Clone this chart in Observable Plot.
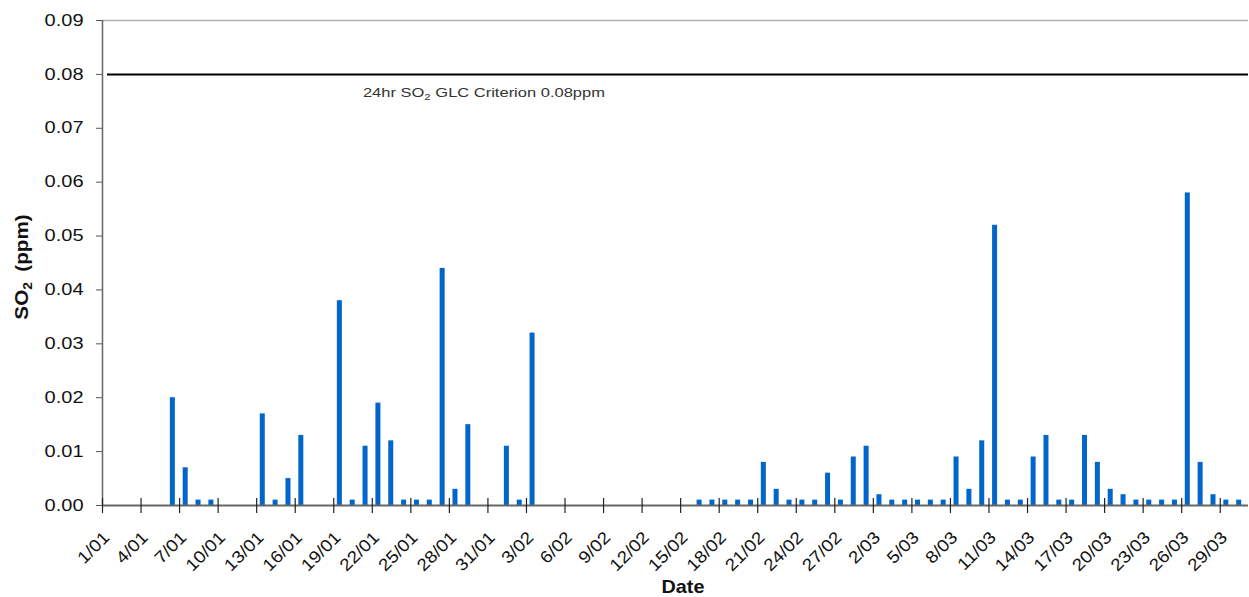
<!DOCTYPE html>
<html><head><meta charset="utf-8">
<script src="https://cdn.jsdelivr.net/npm/d3@7"></script>
<script src="https://cdn.jsdelivr.net/npm/@observablehq/plot@0.6"></script>
<style>
html,body{margin:0;padding:0;background:#fff;}
#chart{width:1249px;height:597px;overflow:hidden;}
svg{display:block;}
</style></head><body><div id="chart"></div>
<script>
// ---- data ----
const barDates = ["5/01","6/01","7/01","8/01","9/01","13/01","14/01","15/01","16/01","19/01","20/01","21/01","22/01","23/01","24/01","25/01","26/01","27/01","28/01","29/01","1/02","2/02","3/02",
  "16/02","17/02","18/02","19/02","20/02","21/02","22/02","23/02","24/02","25/02","26/02","27/02","28/02",
  "1/03","2/03","3/03","4/03","5/03","6/03","7/03","8/03","9/03","10/03","11/03","12/03","13/03","14/03","15/03","16/03","17/03","18/03","19/03","20/03","21/03","22/03","23/03","24/03","25/03","26/03","27/03","28/03","29/03","30/03"];
const so2Values = [0.000,0.020,0.007,0.001,0.001,0.017,0.001,0.005,0.013,0.038,0.001,0.011,0.019,0.012,0.001,0.001,0.001,0.044,0.003,0.015,0.011,0.001,0.032,
  0.001,0.001,0.001,0.001,0.001,0.008,0.003,0.001,0.001,0.001,0.006,0.001,0.009,
  0.011,0.002,0.001,0.001,0.001,0.001,0.001,0.009,0.003,0.012,0.052,0.001,0.001,0.009,0.013,0.001,0.001,0.013,0.008,0.003,0.002,0.001,0.001,0.001,0.001,0.058,0.008,0.002,0.001,0.001];
const tickLabels = ["1/01","4/01","7/01","10/01","13/01","16/01","19/01","22/01","25/01","28/01","31/01","3/02","6/02","9/02","12/02","15/02","18/02","21/02","24/02","27/02","2/03","5/03","8/03","11/03","14/03","17/03","20/03","23/03","26/03","29/03"];
const yTicks = [0,0.01,0.02,0.03,0.04,0.05,0.06,0.07,0.08,0.09];
const criterion = 0.08;
const criterionLabel = ["24hr SO", "2", " GLC Criterion 0.08ppm"];
const yTitle = ["SO", "2", "(ppm)"];
const xTitle = "Date";

// ---- helpers ----
const DAY = 864e5;
const parse = s => d3.utcParse("%d/%m/%Y")(s + "/2001");
const fmt = d3.utcFormat("%-d/%m");
const data = barDates.map((d, i) => ({date: parse(d), v: so2Values[i]}));
const tickDates = tickLabels.map(parse);
const xStart = parse("1/01");
const xEnd = new Date(+xStart + 89.2 * DAY);

const chart = Plot.plot({
  width: 1249, height: 597,
  marginLeft: 102, marginRight: 1, marginTop: 20, marginBottom: 92,
  style: {fontFamily: "'Liberation Sans', Arial, sans-serif", fontSize: "16px", color: "#111", background: "#fff", overflow: "visible"},
  x: {type: "utc", domain: [xStart, xEnd], axis: null},
  y: {domain: [0, 0.09]},
  marks: [
    Plot.ruleY([0.09], {stroke: "#b0b0b0", strokeWidth: 1.5}),
    Plot.rectY(data, {x1: d => new Date(+d.date + 0.28 * DAY), x2: d => new Date(+d.date + 0.67 * DAY), y: "v", fill: "#0066cc"}),
    Plot.ruleY([criterion], {stroke: "#000", strokeWidth: 2, insetLeft: 5}),
    Plot.ruleX([xStart], {y1: 0, y2: 0.09, stroke: "#666", strokeWidth: 1.5}),
    Plot.ruleY([0], {stroke: "#666", strokeWidth: 2}),
    Plot.ruleX(tickDates, {x: d => d, y1: -0.0015, y2: 0.0013, stroke: "#222", strokeWidth: 1.2}),
    Plot.axisY({ticks: yTicks, tickFormat: d3.format(".2f"), tickSize: 6, tickPadding: 13, fontSize: 16, stroke: "#555", fill: "#111", label: null}),
    Plot.text(tickDates, {x: d => d, text: d => fmt(d), frameAnchor: "bottom", rotate: -45, textAnchor: "end", lineAnchor: "bottom", dx: 8, dy: 33, fontSize: 17, fill: "#111"})
  ]
});
document.getElementById("chart").append(chart);

const svg = d3.select(chart);
function stretch(sel, f) {
  sel.each(function () {
    const L = this.getComputedTextLength();
    this.setAttribute("textLength", L * f);
    this.setAttribute("lengthAdjust", "spacingAndGlyphs");
  });
}
stretch(svg.selectAll('g[aria-label="y-axis tick label"] text'), 1.25);
stretch(svg.selectAll('g[aria-label="text"] text'), 1.12);

const xs = chart.scale("x"), ys = chart.scale("y");
// criterion label
const lab = svg.append("text")
  .attr("transform", `translate(${xs.apply(parse("21/01")) + 4},${ys.apply(criterion) + 23}) scale(1.27,1)`)
  .attr("text-anchor", "start")
  .attr("font-size", 13).attr("fill", "#333");
lab.append("tspan").text(criterionLabel[0]);
lab.append("tspan").attr("font-size", 9).attr("dy", 3.5).text(criterionLabel[1]);
lab.append("tspan").attr("dy", -3.5).text(criterionLabel[2]);

// y title
const yt = svg.append("text")
  .attr("transform", `translate(28,267) rotate(-90) scale(1.15,1)`)
  .attr("text-anchor", "middle").attr("font-weight", "bold").attr("font-size", 18).attr("fill", "#111");
yt.append("tspan").text(yTitle[0]);
yt.append("tspan").attr("font-size", 12).attr("dy", 4).text(yTitle[1]);
yt.append("tspan").attr("dy", -4).attr("dx", 9).text(yTitle[2]);

// x title
svg.append("text")
  .attr("transform", `translate(683,593) scale(1.1,1)`)
  .attr("text-anchor", "middle").attr("font-weight", "bold").attr("font-size", 18).attr("fill", "#111")
  .text(xTitle);
</script>
</body></html>
